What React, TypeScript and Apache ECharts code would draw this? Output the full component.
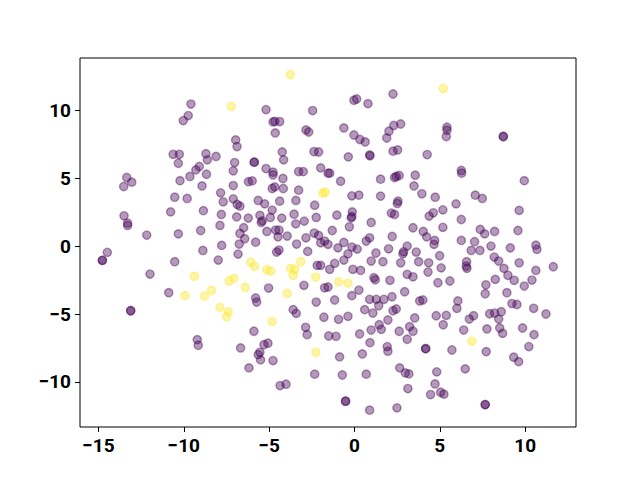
import React, { useEffect, useRef } from "react";
import * as echarts from "echarts";

const xTicks = [-15, -10, -5, 0, 5, 10];
const yTicks = [-10, -5, 0, 5, 10];

const yellowPoints: [number, number][] = [
  [-3.76, 12.63], [-7.22, 10.29], [5.2, 11.6], [-9.38, -2.23], [-9.93, -3.65],
  [-8.79, -3.68], [-8.38, -3.27], [-7.88, -4.51], [-7.39, -4.83], [-7.49, -5.2],
  [-7.35, -2.57], [-7.06, -2.38], [-6.4, -3.04], [-6.08, -1.18], [-5.85, -1.49],
  [-5.14, -1.74], [-4.91, -1.84], [-4.83, -5.54], [-3.94, -3.48], [-3.74, -1.64],
  [-3.5, -1.71], [-3.59, -2.15], [-3.15, -1.15], [-2.27, -2.28], [-2.26, -7.82],
  [-1.85, 3.9], [-1.71, 3.97], [-0.93, -2.63], [-0.38, -2.72], [6.88, -7.01],
];

const purplePoints: [number, number][] = [
  [-9.58, 10.46], [-9.74, 9.61], [-10.03, 9.24], [-10.62, 6.76], [-10.26, 6.76],
  [-10.32, 6.1], [-9.09, 5.86], [-9.29, 5.61], [-9.64, 5.13], [-10.22, 4.82],
  [-13.34, 5.05], [-13.05, 4.71], [-13.52, 4.39], [-5.18, 10.05], [-2.45, 9.98],
  [-4.77, 9.14], [-4.66, 9.19], [-4.38, 9.17], [-2.84, 8.55], [-2.68, 8.4],
  [-4.64, 8.33], [-6.96, 7.82], [-6.88, 7.33], [-4.23, 6.93], [-4.15, 6.35],
  [-2.37, 6.96], [-2.1, 6.93], [-8.7, 6.8], [-8.11, 6.6], [-8.62, 6.35],
  [-5.87, 6.18], [-5.87, 6.18], [-7.02, 6.15], [-7.1, 5.54], [-5.18, 5.71],
  [-4.77, 5.44], [-4.77, 5.24], [-3.27, 5.49], [-3.0, 5.49], [-1.98, 5.76],
  [-1.55, 5.37], [-4.19, 4.98], [-6.21, 4.74], [-5.99, 4.8], [-8.67, 5.29],
  [2.26, 11.2], [-0.03, 10.74], [0.13, 10.83], [0.79, 10.49], [-0.62, 8.7],
  [-0.03, 8.18], [0.32, 7.85], [0.63, 7.67], [2.3, 8.88], [2.71, 8.99],
  [2.02, 8.46], [1.89, 7.96], [5.42, 8.75], [5.42, 8.53], [5.38, 8.07],
  [-0.36, 6.57], [0.89, 6.71], [0.91, 6.65], [2.26, 6.99], [2.53, 7.08],
  [4.26, 6.74], [-1.45, 5.37], [-0.81, 4.78], [1.53, 4.93], [2.35, 5.05],
  [2.45, 5.13], [2.62, 5.2], [3.56, 5.22], [8.72, 8.07], [8.72, 8.07],
  [6.26, 5.57], [6.28, 5.37], [9.95, 4.82], [-10.53, 3.6], [-9.8, 3.51],
  [-8.93, 4.43], [-10.77, 2.52], [-8.85, 2.61], [-13.5, 2.23], [-13.29, 1.69],
  [-13.29, 1.52], [-12.17, 0.81], [-10.32, 0.9], [-9.01, 1.15], [-14.48, -0.46],
  [-14.77, -1.05], [-14.77, -1.05], [-10.53, -1.15], [-8.88, -0.32], [-11.98, -2.06],
  [-10.88, -3.43], [-7.1, 4.46], [-4.67, 4.36], [-4.82, 4.24], [-4.17, 4.24],
  [-3.27, 4.12], [-7.84, 3.92], [-7.69, 3.26], [-7.1, 3.48], [-6.87, 3.07],
  [-6.71, 2.94], [-5.64, 3.36], [-5.26, 3.11], [-4.38, 3.31], [-3.43, 3.36],
  [-2.33, 3.01], [-7.8, 2.33], [-6.9, 2.15], [-6.22, 2.06], [-5.54, 2.26],
  [-5.4, 1.86], [-5.46, 1.74], [-4.93, 2.11], [-4.82, 2.65], [-4.26, 2.06],
  [-3.54, 2.35], [-3.44, 1.64], [-2.94, 1.84], [-2.24, 2.11], [-7.88, 1.52],
  [-6.49, 1.35], [-6.71, 0.93], [-5.13, 1.08], [-4.62, 1.18], [-4.42, 1.18],
  [-4.48, 0.68], [-3.94, 0.74], [-2.36, 0.96], [-2.1, 0.79], [-2.84, 0.61],
  [-1.98, 0.24], [-1.75, 0.37], [-7.78, 0.05], [-6.75, 0.15], [-6.43, 0.54],
  [-5.79, 0.29], [-3.39, 0.15], [-4.56, -0.44], [-4.42, -0.29], [-6.82, -0.59],
  [-7.98, -1.03], [-2.74, -0.39], [-2.18, -1.42], [-1.98, -1.42], [-5.03, -3.09],
  [-2.96, -2.89], [-1.75, -3.07], [-5.79, -3.82], [-5.73, -4.12], [-2.24, -4.12],
  [3.49, 4.43], [-0.15, 3.7], [0.26, 3.75], [1.53, 3.68], [3.95, 3.85],
  [4.73, 3.6], [2.55, 3.31], [2.51, 3.14], [-1.03, 2.28], [-0.13, 2.52],
  [-0.15, 2.18], [-0.19, 2.08], [0.98, 1.74], [2.16, 2.43], [2.35, 2.33],
  [4.38, 2.21], [4.62, 2.45], [5.18, 2.67], [-1.3, 1.15], [-0.3, 1.42],
  [3.43, 1.35], [4.03, 1.08], [4.23, 0.68], [5.18, 1.38], [0.89, 0.61],
  [0.69, 0.37], [2.21, 0.71], [4.7, 0.42], [4.66, 0.13], [-1.55, 0.13],
  [-0.62, 0.27], [-0.97, -0.13], [-0.15, -0.07], [0.16, -0.22], [-0.38, -0.57],
  [2.0, -0.2], [3.09, 0.0], [2.88, -0.42], [2.84, -0.57], [3.62, -0.44],
  [1.26, -0.51], [4.99, -0.71], [-0.62, -1.03], [-1.16, -1.27], [0.98, -1.1],
  [1.67, -1.15], [2.71, -1.23], [3.76, -1.15], [4.35, -1.23], [5.08, -1.6],
  [-1.45, -1.71], [-0.09, -1.71], [0.36, -1.79], [4.31, -1.91], [3.09, -2.08],
  [3.43, -2.26], [1.14, -2.33], [1.22, -2.48], [2.08, -2.52], [-1.55, -3.01],
  [5.59, -2.57], [4.89, -2.7], [0.26, -3.24], [-0.15, -3.65], [2.94, -3.36],
  [-1.16, -3.97], [0.89, -3.92], [1.28, -3.92], [1.73, -3.92], [2.2, -3.73],
  [3.82, -4.04], [4.01, -3.97], [7.08, 3.75], [7.49, 3.51], [5.95, 3.11],
  [9.65, 2.63], [6.26, 1.96], [7.37, 1.23], [7.63, 0.9], [8.21, 1.08],
  [9.58, 1.15], [6.26, 0.42], [7.04, 0.32], [6.84, -0.32], [7.35, -0.32],
  [8.0, 0.0], [9.13, -0.13], [10.63, 0.07], [10.69, -0.24], [8.19, -0.81],
  [8.45, -1.1], [6.57, -1.15], [6.55, -1.47], [6.59, -1.64], [9.65, -1.23],
  [8.76, -1.64], [8.99, -2.15], [10.63, -1.79], [11.65, -1.52], [8.25, -2.45],
  [9.36, -2.52], [10.4, -2.5], [7.7, -2.85], [9.95, -2.94], [7.66, -3.51],
  [8.93, -3.43], [6.06, -4.04], [9.23, -4.23], [9.52, -4.3], [-13.11, -4.76],
  [-13.11, -4.76], [-9.21, -6.89], [-9.15, -7.3], [-3.59, -4.68], [-3.41, -4.95],
  [-1.79, -5.24], [-2.86, -5.98], [-2.77, -6.52], [-1.51, -6.62], [-5.89, -6.27],
  [-6.67, -7.5], [-5.3, -7.26], [-5.07, -7.15], [-5.54, -7.82], [-5.64, -7.99],
  [-5.5, -8.38], [-4.77, -8.43], [-6.18, -8.97], [-2.33, -9.43], [-4.36, -10.27],
  [-4.01, -10.17], [0.6, -4.68], [1.08, -4.93], [1.42, -4.39], [2.26, -4.76],
  [2.45, -4.63], [-0.93, -5.39], [-0.38, -5.17], [1.96, -5.44], [3.53, -5.29],
  [4.79, -5.13], [5.38, -5.1], [5.2, -5.79], [1.45, -5.79], [1.57, -6.13],
  [0.98, -6.18], [2.62, -6.27], [3.23, -5.93], [3.43, -6.27], [0.3, -6.47],
  [-1.08, -6.64], [3.09, -6.86], [0.91, -7.11], [1.92, -7.4], [1.96, -7.74],
  [4.17, -7.55], [4.17, -7.55], [5.71, -7.65], [0.46, -7.94], [-0.87, -8.16],
  [2.65, -8.97], [2.98, -9.34], [3.19, -9.41], [4.82, -9.26], [-0.71, -9.49],
  [0.69, -9.43], [4.72, -10.15], [3.13, -10.49], [4.46, -10.93], [5.05, -10.76],
  [5.24, -10.9], [-0.52, -11.42], [-0.52, -11.42], [0.89, -12.08], [2.49, -11.91],
  [6.0, -4.58], [6.73, -5.37], [6.98, -5.13], [7.92, -4.98], [8.21, -4.93],
  [8.6, -4.83], [8.45, -5.37], [10.5, -4.58], [11.22, -5.0], [6.4, -6.18],
  [7.76, -6.1], [8.51, -6.03], [8.68, -6.42], [9.85, -6.03], [10.52, -6.52],
  [7.72, -7.77], [10.22, -7.4], [9.33, -8.18], [9.62, -8.51], [6.49, -9.04],
  [7.66, -11.67], [7.66, -11.67],
];

const purple = "rgba(68,1,84,0.4)";
const yellow = "rgba(253,231,37,0.4)";

const fmt = (v: number) => String(v).replace("-", "\u2212");

export default function App() {
  const ref = useRef<HTMLDivElement>(null);
  useEffect(() => {
    if (!ref.current) return;
    const chart = echarts.init(ref.current, null, { renderer: "svg" });
    const labelStyle = {
      color: "#000",
      fontSize: 19,
      fontWeight: "bold" as const,
      fontFamily: "Roboto",
      formatter: fmt,
    };
    const tick = {
      show: true,
      length: 5,
      lineStyle: { color: "#000", width: 1 },
    };
    chart.setOption({
      animation: false,
      backgroundColor: "#fff",
      grid: {
        left: 80,
        right: 64,
        top: 58,
        bottom: 53,
        show: true,
        borderColor: "#000",
        borderWidth: 1,
        backgroundColor: "transparent",
      },
      xAxis: {
        type: "value",
        position: "bottom",
        min: -16.08,
        max: 12.98,
        splitLine: { show: false },
        axisLine: { show: false, onZero: false },
        axisTick: { ...tick, customValues: xTicks },
        axisLabel: { ...labelStyle, margin: 9, customValues: xTicks },
      },
      yAxis: {
        type: "value",
        position: "left",
        min: -13.32,
        max: 13.85,
        splitLine: { show: false },
        axisLine: { show: false, onZero: false },
        axisTick: { ...tick, customValues: yTicks },
        axisLabel: { ...labelStyle, margin: 9, customValues: yTicks },
      },
      series: [
        {
          type: "scatter",
          data: purplePoints,
          symbolSize: 8.3,
          itemStyle: { color: purple, borderColor: purple, borderWidth: 1.4, opacity: 1 },
        },
        {
          type: "scatter",
          data: yellowPoints,
          symbolSize: 8.3,
          itemStyle: { color: yellow, borderColor: yellow, borderWidth: 1.4, opacity: 1 },
        },
      ],
    });
    return () => chart.dispose();
  }, []);
  return (
    <div
      ref={ref}
      style={{ position: "fixed", left: 0, top: 0, width: 640, height: 480 }}
    />
  );
}
